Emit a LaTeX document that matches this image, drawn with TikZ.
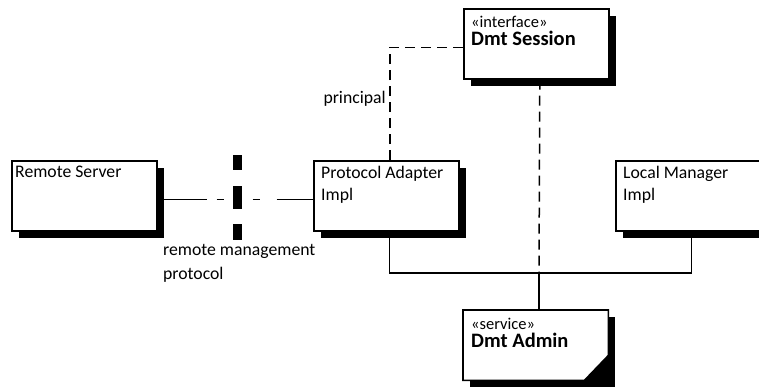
\documentclass[tikz,border=0pt]{standalone}
\usepackage{fontspec}
\setmainfont{Carlito}
\usetikzlibrary{shadows,backgrounds,positioning}

\newcommand{\stereo}[1]{{\fontsize{16.5}{15}\selectfont «#1»}}
\newcommand{\boxtitle}[1]{{\fontsize{20.5}{22}\selectfont\bfseries #1}}

\tikzset{
  umlbox/.style={draw, fill=white, line width=1.6pt, minimum width=145pt, minimum height=70pt,
    anchor=north west, inner sep=0pt,
    general shadow={fill=black, shadow xshift=7pt, shadow yshift=-7pt}},
  boxtext/.style={anchor=north west, inner sep=0pt, xshift=8pt, yshift=-6pt, align=left,
    font=\fontsize{17.7}{22}\selectfont},
  link/.style={line width=1.3pt},
  deplink/.style={line width=1.5pt, dash pattern=on 10pt off 6pt},
  linklabel/.style={font=\fontsize{17.7}{24}\selectfont, align=left}
}

\begin{document}
\begin{tikzpicture}[x=1pt, y=-1pt]
  \useasboundingbox (0,0) rectangle (759,386);

  % --- BOXES ---
  \node[umlbox, label={[boxtext, xshift=-4pt]north west:{Remote Server}}] (remote) at (11,160) {};
  \node[umlbox, label={[boxtext]north west:{Protocol Adapter\\Impl}}] (adapter) at (313,160) {};
  \node[umlbox, label={[boxtext]north west:{Local Manager\\Impl}}] (local) at (615,160) {};
  \node[umlbox, label={[boxtext, yshift=-2pt]north west:{\stereo{interface}\\[-4pt]\boxtitle{Dmt Session}}}] (session) at (463,8) {};

  % Service box with folded corner
  \node[minimum width=145pt, minimum height=70pt, anchor=north west, inner sep=0pt,
    label={[boxtext, yshift=-2pt]north west:{\stereo{service}\\[-4pt]\boxtitle{Dmt Admin}}}] (admin) at (463,310) {};
  \begin{scope}[on background layer]
    \fill ([shift={(7pt,-7pt)}]admin.north west) rectangle ([shift={(7pt,-7pt)}]admin.south east);
    \fill (admin.south east) -- ([yshift=25pt]admin.south east) -- ([xshift=-24pt]admin.south east) -- cycle;
    \draw[line width=1.6pt, fill=white] (admin.north west) -- (admin.north east)
      -- ([yshift=25pt]admin.south east) -- ([xshift=-24pt]admin.south east)
      -- (admin.south west) -- cycle;
  \end{scope}

  % --- CONNECTORS ---
  \coordinate (bus) at (539,273);
  \draw[deplink] ([xshift=3.5pt]adapter.north) |- node[pos=0.27, left, linklabel] (principal) {principal}
    ([yshift=-3.5pt]session.west);
  \draw[deplink] ([xshift=3.5pt]session.south) -- (bus);
  \draw[link] ([xshift=3.5pt]adapter.south) |- (bus) -| ([xshift=3.5pt]local.south);
  \draw[link] (bus) -- (bus |- admin.north);

  % Remote protocol line with port bar
  \draw[link, dash pattern=on 49pt off 10pt on 7pt off 29pt on 7pt off 17pt on 38pt off 10pt]
    ([yshift=-3.5pt]remote.east) -- ([yshift=-3.5pt]adapter.west);
  \coordinate (portbar) at (237.5,155);
  \draw[line width=9pt, dash pattern=on 15pt off 16pt on 23pt off 15pt on 16pt off 10pt]
    (portbar) -- ++(0,85);
  \node[linklabel, anchor=north west, inner sep=0pt] (protocol) at (163,244) {remote management\\protocol};

\end{tikzpicture}
\end{document}
